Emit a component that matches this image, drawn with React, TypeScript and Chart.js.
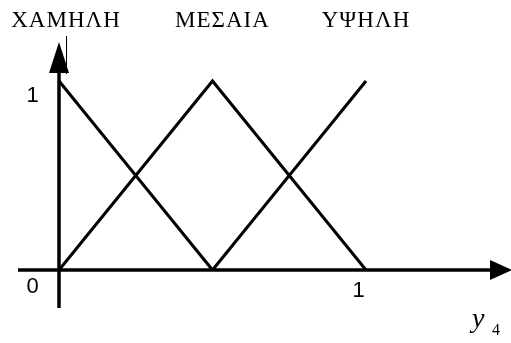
import { useEffect, useRef } from 'react';
import { Chart, registerables } from 'chart.js';

Chart.register(...registerables);

// ---- data ----
const seriesNames = ['ΧΑΜΗΛΗ', 'ΜΕΣΑΙΑ', 'ΥΨΗΛΗ'];
const lowX = [0, 0.5];
const lowY = [1, 0];
const medX = [0, 0.5, 1];
const medY = [0, 1, 0];
const highX = [0.5, 1];
const highY = [0, 1];
const originLabel = '0';
const xTickLabel = '1';
const yTickLabel = '1';
const axisVar = 'y';
const axisSub = '4';

const W = 511;
const H = 343;

const toPts = (xs: number[], ys: number[]) => xs.map((x, i) => ({ x, y: ys[i] }));

function tri(ctx: CanvasRenderingContext2D, p: number[]) {
  ctx.beginPath();
  ctx.moveTo(p[0], p[1]);
  ctx.lineTo(p[2], p[3]);
  ctx.lineTo(p[4], p[5]);
  ctx.closePath();
  ctx.fill();
}

const decorPlugin = {
  id: 'decor',
  afterDraw(chart: any) {
    const ctx = chart.ctx as CanvasRenderingContext2D;
    const xs = chart.scales.x;
    const ys = chart.scales.y;
    const x0 = xs.getPixelForValue(0);
    const x1 = xs.getPixelForValue(1);
    const y0 = ys.getPixelForValue(0);
    const y1 = ys.getPixelForValue(1);
    const right = chart.chartArea.right;
    ctx.save();
    ctx.strokeStyle = '#000';
    ctx.fillStyle = '#000';
    ctx.lineCap = 'butt';
    ctx.lineWidth = 3.5;
    // x axis
    ctx.beginPath();
    ctx.moveTo(x0 - 41, y0);
    ctx.lineTo(right - 18, y0);
    ctx.stroke();
    tri(ctx, [right - 21, y0 - 10, right + 1, y0, right - 21, y0 + 10]);
    // y axis
    ctx.beginPath();
    ctx.moveTo(x0, y0 + 38);
    ctx.lineTo(x0, y1 - 12);
    ctx.stroke();
    tri(ctx, [x0 - 10, y1 - 8, x0, y1 - 39, x0 + 10, y1 - 8]);
    // thin stray line next to arrow
    ctx.lineWidth = 1;
    ctx.beginPath();
    ctx.moveTo(x0 + 7.5, y1 - 45);
    ctx.lineTo(x0 + 7.5, y1 - 7);
    ctx.stroke();

    // tick labels
    ctx.font = '22px "Liberation Sans", Arial, sans-serif';
    ctx.textAlign = 'center';
    ctx.textBaseline = 'alphabetic';
    ctx.fillText(originLabel, x0 - 26.5, y0 + 23);
    ctx.fillText(yTickLabel, x0 - 26.5, y1 + 21);
    ctx.fillText(xTickLabel, x1 - 7.5, y0 + 27);

    // series names above each peak
    ctx.font = '23px "Liberation Serif", "Times New Roman", serif';
    (ctx as any).letterSpacing = '1px';
    chart.data.datasets.forEach((ds: any, i: number) => {
      let peak = ds.data[0];
      ds.data.forEach((p: any) => { if (p.y > peak.y) peak = p; });
      const offs = [7, 10, 0];
      ctx.fillText(seriesNames[i], xs.getPixelForValue(peak.x) + offs[i], 27);
    });
    (ctx as any).letterSpacing = '0px';

    // axis variable
    ctx.textAlign = 'left';
    ctx.font = 'italic 28px "Liberation Serif", "Times New Roman", serif';
    ctx.fillText(axisVar, 472, y0 + 57);
    ctx.font = '16px "Liberation Serif", "Times New Roman", serif';
    ctx.fillText(axisSub, 492, y0 + 65);
    ctx.restore();
  },
};

export default function App() {
  const ref = useRef<HTMLCanvasElement | null>(null);
  useEffect(() => {
    if (!ref.current) return;
    const ds = (d: { x: number; y: number }[]) => ({
      data: d,
      showLine: true,
      borderColor: '#000',
      borderWidth: 3,
      pointRadius: 0,
      tension: 0,
      clip: false as any,
      fill: false,
    });
    const chart = new Chart(ref.current, {
      type: 'scatter',
      data: {
        datasets: [ds(toPts(lowX, lowY)), ds(toPts(medX, medY)), ds(toPts(highX, highY))],
      },
      options: {
        animation: false,
        responsive: false,
        layout: { padding: 0 },
        plugins: { legend: { display: false }, tooltip: { enabled: false } },
        scales: {
          x: { type: 'linear', display: false, min: -59 / 307, max: (W - 59) / 307 },
          y: { type: 'linear', display: false, min: -(H - 270) / 189, max: 270 / 189 },
        },
      },
      plugins: [decorPlugin],
    });
    return () => chart.destroy();
  }, []);
  return (
    <div style={{ position: 'absolute', left: 0, top: 0, width: W, height: H, background: '#fff' }}>
      <canvas ref={ref} width={W} height={H} style={{ width: W, height: H }} />
    </div>
  );
}
